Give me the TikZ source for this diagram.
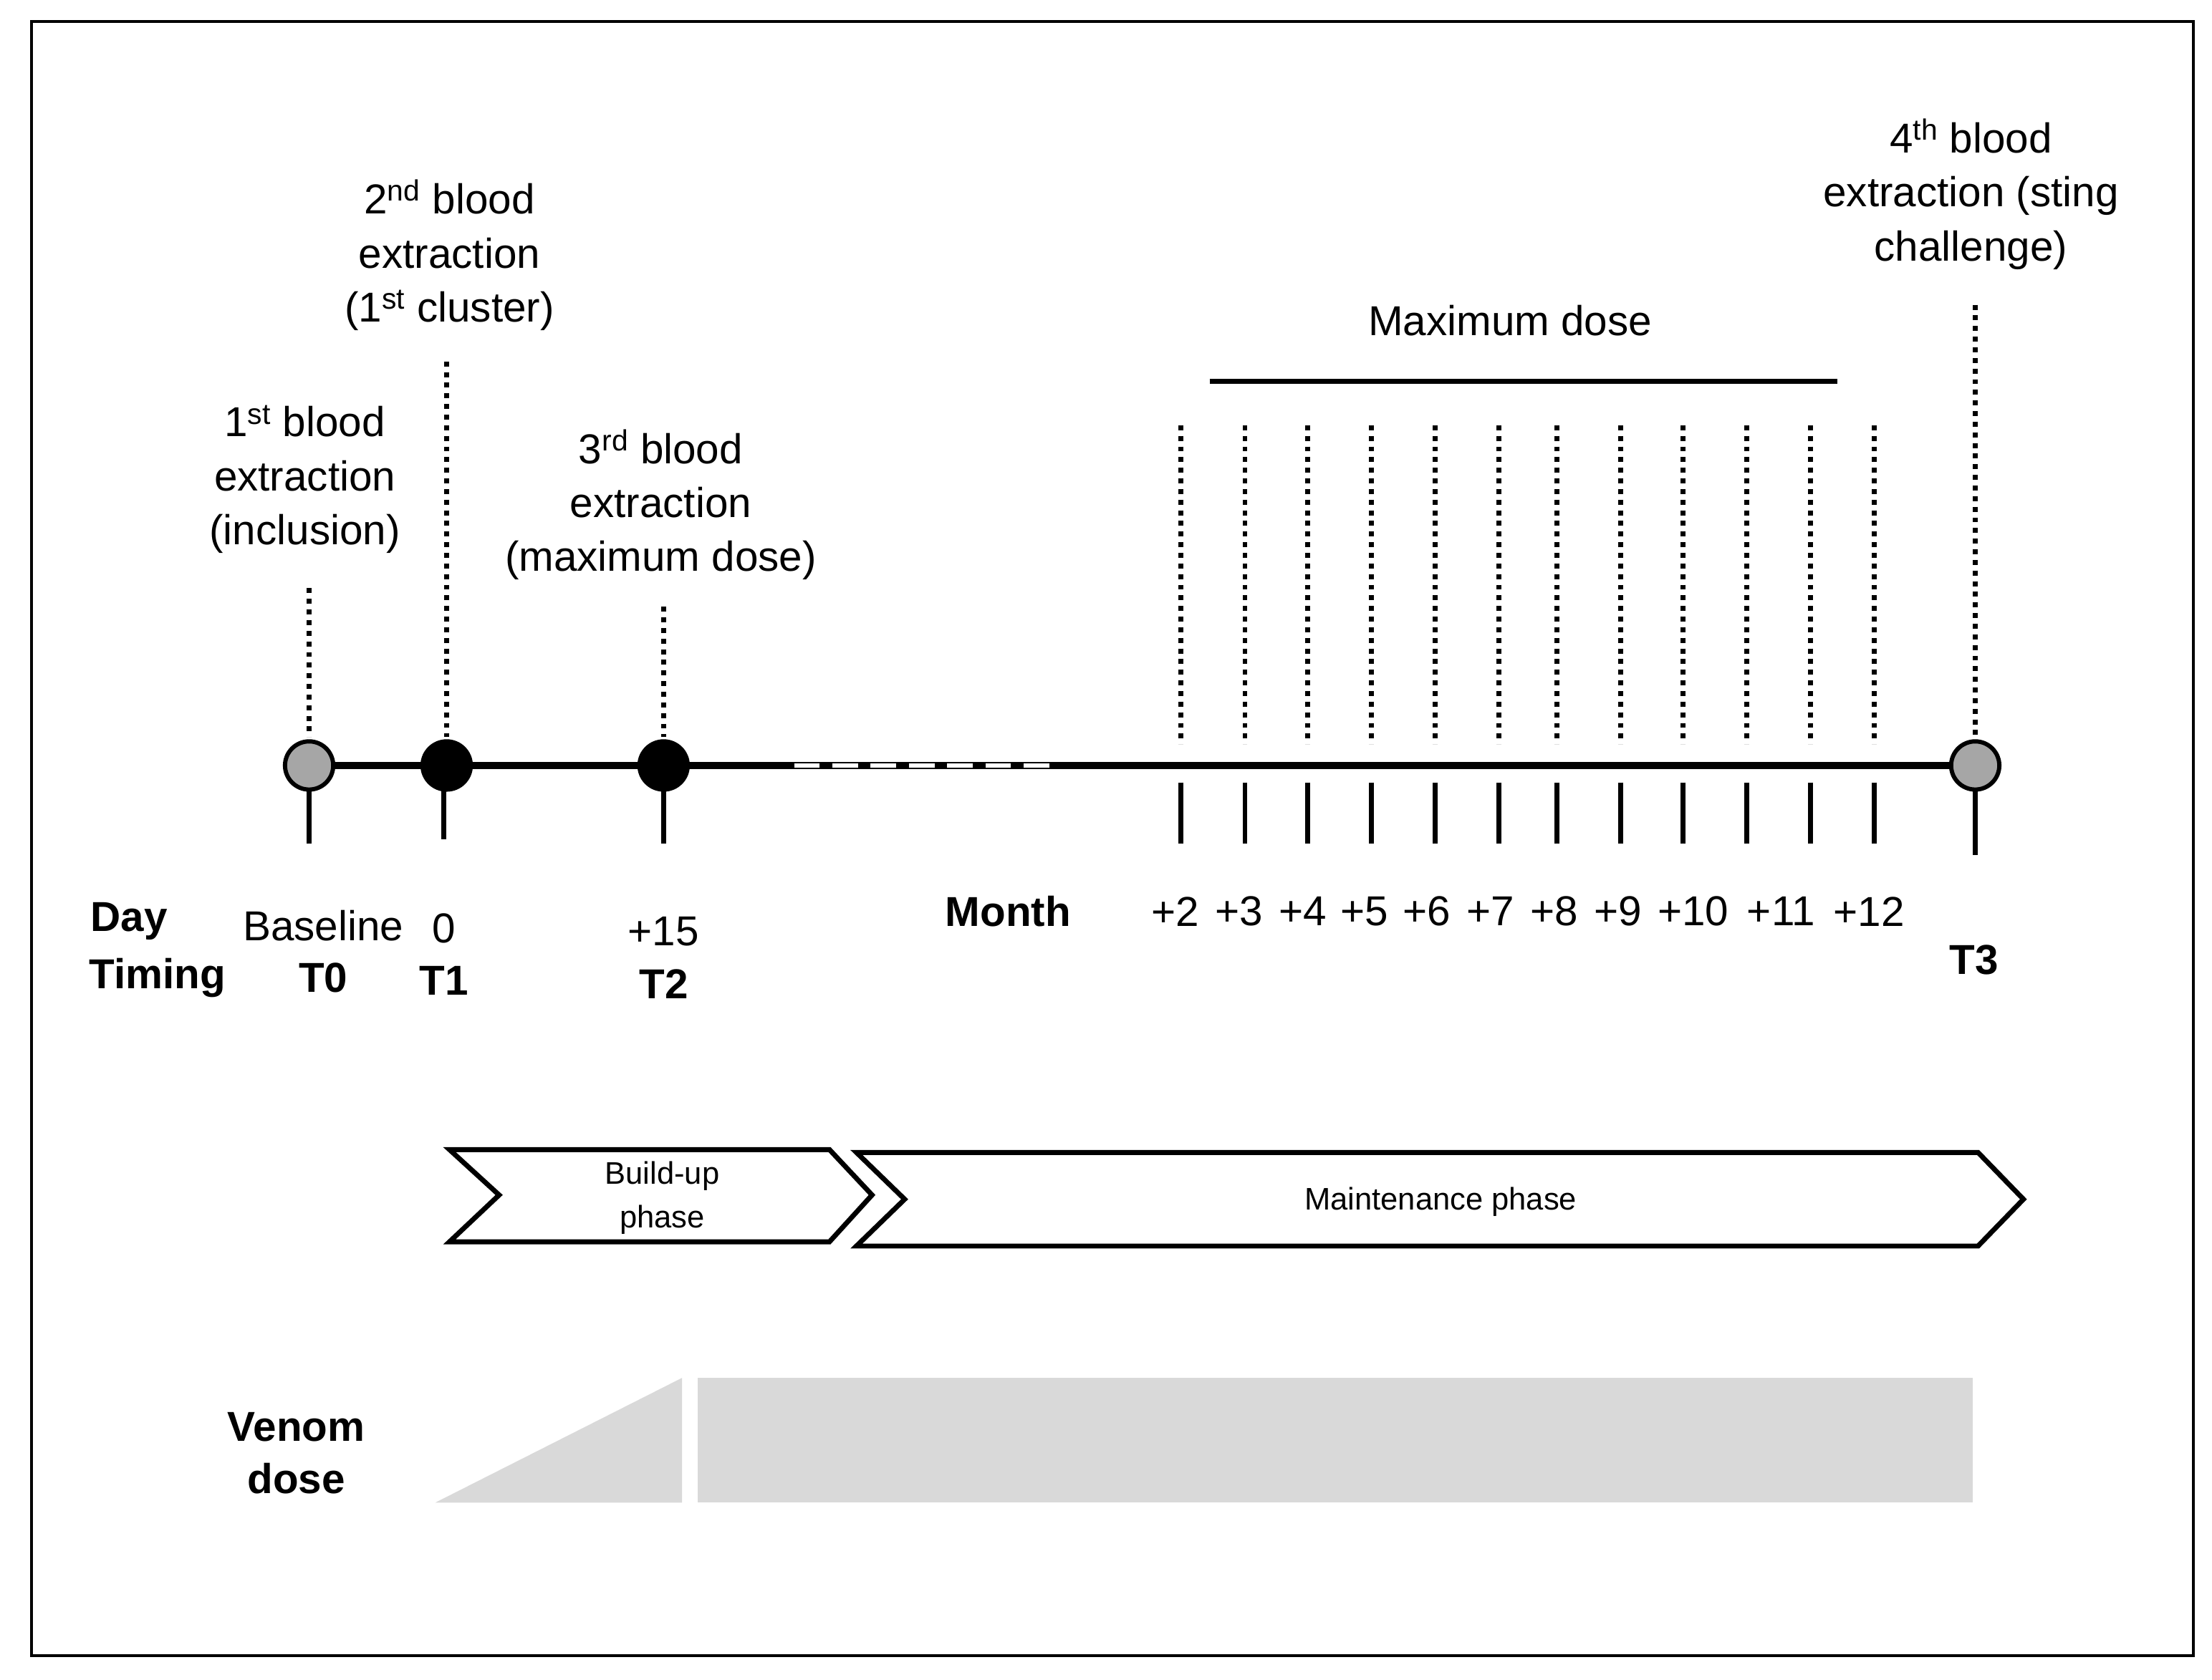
\documentclass[tikz,border=0pt]{standalone}
\usepackage{fontspec}
\setmainfont{Liberation Sans}
\begin{document}
\begin{tikzpicture}[x=1pt,y=-1pt,
  lbl/.style={font=\fontsize{29.5}{38}\selectfont,align=center,inner sep=0},
  bl/.style={font=\fontsize{29.5}{34}\selectfont\bfseries,inner sep=0},
  dot/.style={line width=3.5pt,dash pattern=on 3.5pt off 4pt},
  tick/.style={line width=3.5pt},
  pt/.style={circle,draw,line width=3pt,minimum size=34pt,inner sep=0},
  chev/.style={draw,line width=3.5pt,line join=miter},
  dose/.style={fill=black!15,draw=none}]
\useasboundingbox (0,0) rectangle (1560,1185);
\draw[line width=2pt] (22,15) rectangle (1547,1168);
% main line
\draw[line width=5pt] (218,540) -- (1393,540);
\draw[white,line width=3pt,dash pattern=on 18pt off 9pt] (560,540) -- (740,540);
% ticks
\foreach \x/\b in {218/595,313/592,468/595,1393/603} \draw[tick] (\x,540) -- (\x,\b);
\foreach \x in {833,878,922,967,1012,1057,1098,1143,1187,1232,1277,1322}{
  \draw[dot] (\x,300) -- (\x,525);
  \draw[tick] (\x,552) -- (\x,595);}
% dotted verticals above
\draw[dot] (218,415) -- (218,520);
\draw[dot] (315,255) -- (315,520);
\draw[dot] (468,428) -- (468,520);
\draw[dot] (1393,215) -- (1393,520);
% circles
\node[pt,fill=black!35] (t0) at (218,540) {};
\node[pt,fill=black] (t1) at (315,540) {};
\node[pt,fill=black] (t2) at (468,540) {};
\node[pt,fill=black!35] (t3) at (1393,540) {};
% max dose
\draw[line width=4pt] (853,269) -- (1296,269);
\node[lbl] (md) at (1065,226) {Maximum dose};
% extraction labels
\node[lbl] (e1) at (215,338) {1\textsuperscript{st} blood\\extraction\\(inclusion)};
\node[lbl] (e2) at (317,180) {2\textsuperscript{nd} blood\\extraction\\(1\textsuperscript{st} cluster)};
\node[lbl] (e3) at (466,356) {3\textsuperscript{rd} blood\\extraction\\(maximum dose)};
\node[lbl] (e4) at (1390,137) {4\textsuperscript{th} blood\\extraction (sting\\challenge)};
% axis labels
\node[bl] (day) at (91,650) {Day};
\node[bl] (tim) at (111,690) {Timing};
\node[lbl] (bas) at (228,653) {Baseline};
\node[bl] (T0) at (228,690) {T0};
\node[lbl] (d0) at (313,655) {0};
\node[bl] (T1) at (313,692) {T1};
\node[lbl] (d15) at (468,657) {+15};
\node[bl] (T2) at (468,694) {T2};
\node[bl] (mon) at (711,643) {Month};
\node[bl] (T3) at (1392,677) {T3};
\foreach \x/\t in {829/+2,874/+3,919/+4,962/+5,1006/+6,1051/+7,1096/+8,1141/+9,1194/+10,1256/+11,1318/+12}
  \node[lbl] at (\x,643) {\t};
% chevrons
\draw[chev] (317,811) -- (585,811) -- (615,843) -- (585,876) -- (317,876) -- (352,843) -- cycle;
\node[lbl,font=\fontsize{22}{31}\selectfont] (bu) at (467,845) {Build-up\\phase};
\draw[chev] (604,813) -- (1395,813) -- (1427,846) -- (1395,879) -- (604,879) -- (638,846) -- cycle;
\node[lbl,font=\fontsize{22}{26}\selectfont] (mp) at (1016,848) {Maintenance phase};
% venom dose
\fill[dose] (307,1060) -- (481,972) -- (481,1060) -- cycle;
\fill[dose] (492,972) rectangle (1391,1060);
\node[bl,align=center,font=\fontsize{29.5}{37}\selectfont\bfseries] (vd) at (209,1025) {Venom\\dose};
\end{tikzpicture}
\end{document}
